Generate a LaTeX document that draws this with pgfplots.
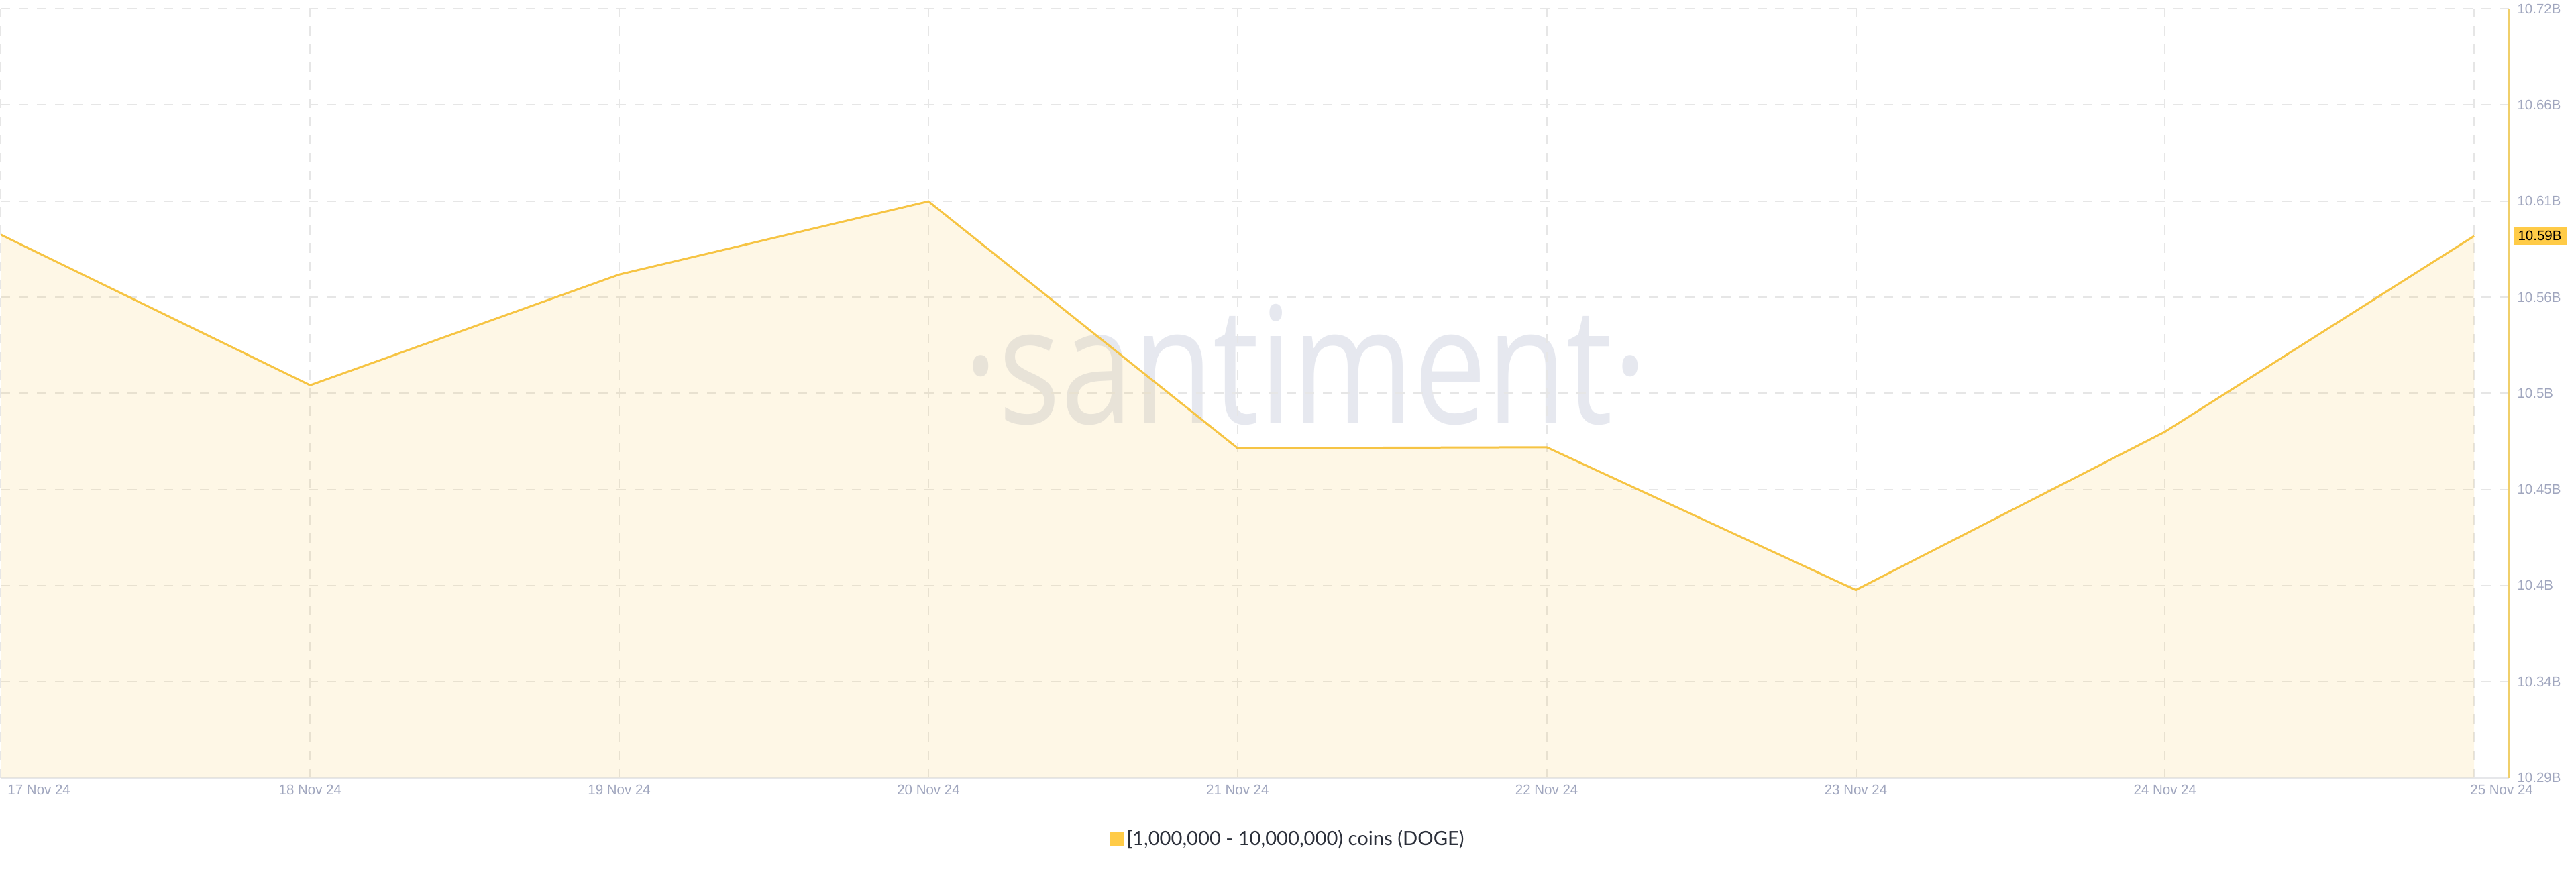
\documentclass[border=0pt]{standalone}
\usepackage{fontspec}
\setmainfont{Liberation Sans}
\newfontfamily\latofont{Lato}
\newfontfamily\wmfont{Open Sans}
\usepackage{graphicx}
\usepackage{pgfplots}
\usepackage{pgfplotstable}
\pgfplotsset{compat=1.18}
\definecolor{linecol}{HTML}{F6C444}
\definecolor{fillcol}{HTML}{F9C440}
\definecolor{tickcol}{HTML}{A0A6BE}
\definecolor{gridcol}{HTML}{E6E6E6}
\definecolor{wmcol}{HTML}{E6E8EF}
\definecolor{badge}{HTML}{FFCB47}
\definecolor{rightax}{HTML}{F0CF6A}
\definecolor{botax}{HTML}{E6E7EA}
\definecolor{legtext}{HTML}{2B2F3A}

\pgfplotstableread{
x y
0 10.5916
1 10.5075
2 10.5694
3 10.6103
4 10.4723
5 10.4728
6 10.3930
7 10.4815
8 10.5909
}\datatable

\pgfplotstableread{
x y
0 10.288
0 10.5916
1 10.5075
2 10.5694
3 10.6103
4 10.4723
5 10.4728
6 10.3930
7 10.4815
8 10.5909
8 10.288
}\filltable

\begin{document}
\begin{tikzpicture}
\path (0,-70bp) rectangle (1920bp,580bp);
\begin{axis}[
  set layers,
  at={(0,0)}, anchor=south west,
  scale only axis, width=1870bp, height=573.5bp,
  xmin=0, xmax=8.1128, ymin=10.288, ymax=10.718,
  axis x line*=bottom, axis y line*=right,
  x axis line style={draw=botax, line width=1.5bp},
  y axis line style={draw=rightax, line width=1.5bp},
  major tick length=0pt,
  grid=major,
  major grid style={draw=gridcol, line width=1bp, dash pattern=on 7bp off 6.5bp},
  xtick={0,1,2,3,4,5,6,7,8},
  xticklabels={\makebox[0pt][l]{\hspace{5bp}17 Nov 24}, 18 Nov 24, 19 Nov 24, 20 Nov 24, 21 Nov 24, 22 Nov 24, 23 Nov 24, 24 Nov 24, \makebox[0pt]{\hspace{41bp}25 Nov 24}},
  ytick={10.288,10.34175,10.3955,10.44925,10.503,10.55675,10.6105,10.66425,10.718},
  yticklabels={10.29B,10.34B,10.4B,10.45B,10.5B,10.56B,10.61B,10.66B,10.72B},
  xticklabel style={font=\fontsize{10.25bp}{12bp}\selectfont, text=tickcol, anchor=north, inner sep=0pt, yshift=-5bp},
  yticklabel style={font=\fontsize{10.25bp}{12bp}\selectfont, text=tickcol, anchor=west, inner sep=0pt, xshift=6bp},
  extra y ticks={10.5909},
  extra y tick labels={10.59B},
  extra y tick style={grid=none, yticklabel style={fill=badge, text=black, inner xsep=3.5bp, inner ysep=2.9bp, xshift=-3bp}},
  legend style={at={(0.44225,-0.07934)}, anchor=west, draw=none, fill=none, inner sep=0pt,
    font=\latofont\fontsize{14.6bp}{18bp}\selectfont, text=legtext},
  legend image code/.code={\fill[badge] (0bp,-4.25bp) rectangle (8.5bp,4.25bp);},
]
\begin{pgfonlayer}{axis background}
\node[anchor=base, text=wmcol, inner sep=0pt, font=\wmfont\fontsize{121.5bp}{130bp}\selectfont] at (rel axis cs:0.5202,0.4603) {\scalebox{0.8}[1]{·santiment·}};
\end{pgfonlayer}
\addplot[draw=none, fill=fillcol, fill opacity=0.13, forget plot] table[x=x,y=y] {\filltable};
\addplot[linecol, line width=1.5bp, mark=none] table[x=x,y=y] {\datatable};
\addlegendentry{{[}1,000,000 - 10,000,000) coins (DOGE)}
\end{axis}
\end{tikzpicture}
\end{document}
